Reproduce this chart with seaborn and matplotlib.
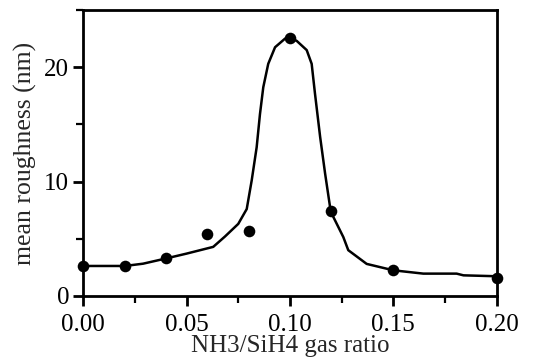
import matplotlib
matplotlib.use("Agg")
import matplotlib.pyplot as plt
import seaborn as sns
import pandas as pd
from matplotlib.ticker import MultipleLocator, FormatStrFormatter

# measured points
ratio = [0.00, 0.02, 0.04, 0.06, 0.08, 0.10, 0.12, 0.15, 0.20]
roughness = [2.6, 2.6, 3.3, 5.4, 5.7, 22.6, 7.4, 2.3, 1.6]

# guide curve (hand drawn fit)
curve_x = [0.0, 0.0202, 0.029, 0.0411, 0.05, 0.0629, 0.0686, 0.0750, 0.0791,
           0.0815, 0.0839, 0.0855, 0.0871, 0.0895, 0.0928, 0.0976, 0.1000,
           0.1033, 0.1081, 0.1105, 0.1121, 0.1146, 0.1170, 0.1194, 0.1210,
           0.1258, 0.1282, 0.1371, 0.15, 0.1645, 0.1806, 0.1839, 0.2]
curve_y = [2.62, 2.62, 2.82, 3.32, 3.70, 4.29, 5.2, 6.3, 7.6,
           10.1, 13.0, 15.9, 18.25, 20.3, 21.75, 22.5, 22.6,
           22.3, 21.5, 20.3, 17.7, 13.9, 10.7, 7.77, 6.9,
           5.15, 4.0, 2.8, 2.24, 1.95, 1.95, 1.80, 1.72]

sns.set_style("ticks")
plt.rcParams['font.family'] = ['Liberation Serif', 'DejaVu Serif']

fig = plt.figure(figsize=(5.33, 3.6), dpi=100)
ax = fig.add_axes([0.156, 0.178, 0.776, 0.794])

pts = pd.DataFrame({"ratio": ratio, "roughness": roughness})
crv = pd.DataFrame({"x": curve_x, "y": curve_y})

sns.lineplot(data=crv, x="x", y="y", ax=ax, color="black", linewidth=1.8,
             sort=False, estimator=None)
sns.scatterplot(data=pts, x="ratio", y="roughness", ax=ax, color="black",
                s=70, edgecolor="black", linewidth=0, zorder=5, clip_on=False)

ax.set_xlim(0, 0.2)
ax.set_ylim(0, 25)
ax.xaxis.set_major_locator(MultipleLocator(0.05))
ax.xaxis.set_minor_locator(MultipleLocator(0.025))
ax.yaxis.set_major_locator(MultipleLocator(10))
ax.yaxis.set_minor_locator(MultipleLocator(5))
ax.xaxis.set_major_formatter(FormatStrFormatter("%.2f"))

for s in ax.spines.values():
    s.set_linewidth(2.0)
    s.set_color("black")
ax.tick_params(which="major", length=7, width=2.0, labelsize=18, colors="black")
ax.tick_params(axis="x", which="major", pad=6)
ax.tick_params(axis="y", which="major", pad=3)
ax.tick_params(which="minor", length=5, width=1.6, colors="black")

ax.set_xlabel("NH3/SiH4 gas ratio", fontsize=18, labelpad=-1)
ax.set_ylabel("mean roughness (nm)", fontsize=18.5, labelpad=5)

fig.savefig("out.png", dpi=100)
